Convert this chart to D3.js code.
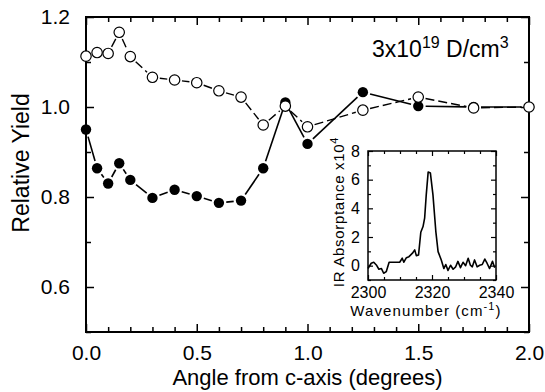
<!DOCTYPE html>
<html><head><meta charset="utf-8">
<script src="https://cdn.jsdelivr.net/npm/d3@7"></script>
<style>
body{margin:0;background:#fff}
svg{display:block;font-family:"Liberation Sans",Arial,sans-serif}
</style>
</head><body>
<svg id="chart" width="545" height="392"></svg>
<script>
// ---- data ----
const angles       = [0, 0.05, 0.1, 0.15, 0.2, 0.3, 0.4, 0.5, 0.6, 0.7, 0.8, 0.9, 1.0, 1.25, 1.5, 1.75, 2.0];
const openYield    = [1.113, 1.121, 1.119, 1.166, 1.112, 1.066, 1.060, 1.054, 1.036, 1.022, 0.960, 1.002, 0.956, 0.993, 1.022, 0.998, 1.000];
const filledYield  = [0.950, 0.864, 0.830, 0.875, 0.838, 0.798, 0.816, 0.802, 0.787, 0.792, 0.864, 1.010, 0.918, 1.033, 1.002, 1.000, 1.000];
const xMajorTicks  = [0, 0.5, 1.0, 1.5, 2.0];
const xMinorTicks  = [0.1,0.2,0.3,0.4,0.6,0.7,0.8,0.9,1.1,1.2,1.3,1.4,1.6,1.7,1.8,1.9];
const yMajorTicks  = [0.6, 0.8, 1.0, 1.2];
const yMinorTicks  = [0.5, 0.7, 0.9, 1.1];

const wavenumber   = [2300,2301,2301.8,2302.6,2303.4,2304.2,2304.9,2305.7,2306.6,2309.9,2310.7,2311.2,2312,2312.8,2313.9,2314.6,2315.1,2315.8,2316.5,2317.2,2317.7,2318.2,2318.8,2319.5,2320.3,2321.2,2321.9,2322.9,2323.7,2324.3,2325,2325.8,2326.6,2327.4,2328.1,2328.9,2329.7,2330.5,2331.3,2332,2332.6,2333.3,2334.1,2334.9,2335.7,2336.5,2337.2,2338,2338.9,2339.6];
const absorptance  = [-0.2,0.17,0.24,0.05,-0.25,-0.2,-0.53,-0.42,0.24,0.24,0.52,0.24,0.56,0.63,0.87,1.1,0.7,0.75,2.33,2.73,3.31,4.94,6.53,6.46,4.94,2.38,0.98,0.4,-0.2,0.08,-0.33,0.03,-0.25,-0.08,0.3,-0.14,0.24,0,0.52,0.03,-0.08,0.4,-0.08,0.03,0.08,0.46,0.17,-0.2,0.3,-0.14];
const insetXMajor  = [2300, 2320, 2340];
const insetXMinor  = [2305,2310,2315,2325,2330,2335];
const insetYMajor  = [0, 2, 4, 6, 8];
const insetYMinor  = [-1, 1, 3, 5, 7];

// ---- layout ----
const svg = d3.select("#chart");
const L = 86, R = 529, T = 17, B = 332;
const x = d3.scaleLinear().domain([0, 2]).range([L, R]);
const y = d3.scaleLinear().domain([0.5, 1.2]).range([B, T]);
const fmt = d3.format(".1f");

function drawAxes(g, xs, ys, xMaj, xMin, yMaj, yMin, majLen, minLen, opts) {
  const [x0, x1] = xs.range(), [y0, y1] = ys.range();
  const mk = (axisFn, scale, ticks, len, labels, tr, pad) => {
    const a = axisFn(scale).tickValues(ticks).tickSizeInner(-len).tickSizeOuter(0);
    if (!labels) a.tickFormat(""); else a.tickFormat(opts.fmt).tickPadding(pad + len);
    const gg = g.append("g").attr("transform", tr).call(a);
    gg.select(".domain").remove();
    gg.selectAll("line").attr("stroke", "#000").attr("stroke-width", opts.tickW);
    gg.selectAll("text").attr("font-size", opts.fs).attr("fill", "#000").attr("font-family", "Liberation Sans, Arial, sans-serif");
    return gg;
  };
  mk(d3.axisBottom, xs, xMaj, majLen, true, `translate(0,${y0})`, opts.padX);
  mk(d3.axisBottom, xs, xMin, minLen, false, `translate(0,${y0})`);
  mk(d3.axisTop, xs, xMaj, majLen, false, `translate(0,${y1})`);
  mk(d3.axisTop, xs, xMin, minLen, false, `translate(0,${y1})`);
  mk(d3.axisLeft, ys, yMaj, majLen, true, `translate(${x0},0)`, opts.padY);
  mk(d3.axisLeft, ys, yMin, minLen, false, `translate(${x0},0)`);
  mk(d3.axisRight, ys, yMaj, majLen, false, `translate(${x1},0)`);
  mk(d3.axisRight, ys, yMin, minLen, false, `translate(${x1},0)`);
  g.append("rect").attr("x", x0).attr("y", y1).attr("width", x1 - x0).attr("height", y0 - y1)
    .attr("fill", "none").attr("stroke", "#000").attr("stroke-width", opts.frameW);
}

const main = svg.append("g");
drawAxes(main, x, y, xMajorTicks, xMinorTicks, yMajorTicks, yMinorTicks, 8, 5,
  {fmt: fmt, padX: 5, padY: 8, fs: 21, tickW: 1.5, frameW: 2});

// data: segments shortened around markers
const r = 5.2, gap = 2.2;
function segments(vals) {
  const pts = angles.map((a, i) => [x(a), y(vals[i])]);
  const out = [];
  for (let i = 0; i < pts.length - 1; i++) {
    const [ax, ay] = pts[i], [bx, by] = pts[i + 1];
    const d = Math.hypot(bx - ax, by - ay), s = r + gap;
    if (d <= 2 * s) continue;
    const ux = (bx - ax) / d, uy = (by - ay) / d;
    out.push([ax + ux * s, ay + uy * s, bx - ux * s, by - uy * s]);
  }
  return out;
}
main.append("g").selectAll("line").data(segments(filledYield)).join("line")
  .attr("x1", d => d[0]).attr("y1", d => d[1]).attr("x2", d => d[2]).attr("y2", d => d[3])
  .attr("stroke", "#000").attr("stroke-width", 1.6);
main.append("g").selectAll("circle").data(angles).join("circle")
  .attr("cx", d => x(d)).attr("cy", (d, i) => y(filledYield[i])).attr("r", r)
  .attr("fill", "#000");
main.append("g").selectAll("line").data(segments(openYield)).join("line")
  .attr("x1", d => d[0]).attr("y1", d => d[1]).attr("x2", d => d[2]).attr("y2", d => d[3])
  .attr("stroke", "#000").attr("stroke-width", 1.4).attr("stroke-dasharray", "9,4");
main.append("g").selectAll("circle").data(angles).join("circle")
  .attr("cx", d => x(d)).attr("cy", (d, i) => y(openYield[i])).attr("r", r)
  .attr("fill", "#fff").attr("stroke", "#000").attr("stroke-width", 1.2);

// titles
svg.append("text").attr("x", (L + R) / 2).attr("y", 385).attr("text-anchor", "middle")
  .attr("font-size", 22).text("Angle from c-axis (degrees)");
svg.append("text").attr("transform", `translate(29,163) rotate(-90)`).attr("text-anchor", "middle")
  .attr("font-size", 23).text("Relative Yield");

// annotation
const ann = svg.append("text").attr("x", 372).attr("y", 57).attr("font-size", 23);
ann.append("tspan").text("3x10");
ann.append("tspan").attr("font-size", 16).attr("dy", -9).text("19");
ann.append("tspan").attr("dy", 9).text(" D/cm");
ann.append("tspan").attr("font-size", 16).attr("dy", -9).text("3");

// ---- inset ----
const IL = 368, IR = 496, IT = 151, IB = 280;
const ix = d3.scaleLinear().domain([2300, 2340]).range([IL, IR]);
const iy = d3.scaleLinear().domain([-1, 8]).range([IB, IT]);
const inset = svg.append("g");
inset.append("rect").attr("x", IL).attr("y", IT).attr("width", IR - IL).attr("height", IB - IT).attr("fill", "#fff");
inset.append("path").datum(wavenumber.map((w, i) => [w, absorptance[i]]))
  .attr("d", d3.line().x(d => ix(d[0])).y(d => iy(d[1])))
  .attr("fill", "none").attr("stroke", "#000").attr("stroke-width", 1.6).attr("stroke-linejoin", "round");
drawAxes(inset, ix, iy, insetXMajor, insetXMinor, insetYMajor, insetYMinor, 5, 3,
  {fmt: d3.format("d"), padX: 2, padY: 3, fs: 16, tickW: 1.2, frameW: 1.5});
const wt = svg.append("text").attr("x", 426).attr("y", 316).attr("text-anchor", "middle")
  .attr("font-size", 15).attr("letter-spacing", 1.1);
wt.append("tspan").text("Wavenumber (cm");
wt.append("tspan").attr("font-size", 11).attr("dy", -6).text("-1");
wt.append("tspan").attr("dy", 6).text(")");
const iyt = svg.append("text").attr("transform", `translate(344,212) rotate(-90)`)
  .attr("text-anchor", "middle").attr("font-size", 15).attr("letter-spacing", 0.7);
iyt.append("tspan").text("IR Absorptance x10");
iyt.append("tspan").attr("font-size", 11).attr("dy", -6).text("4");
</script>
</body></html>
